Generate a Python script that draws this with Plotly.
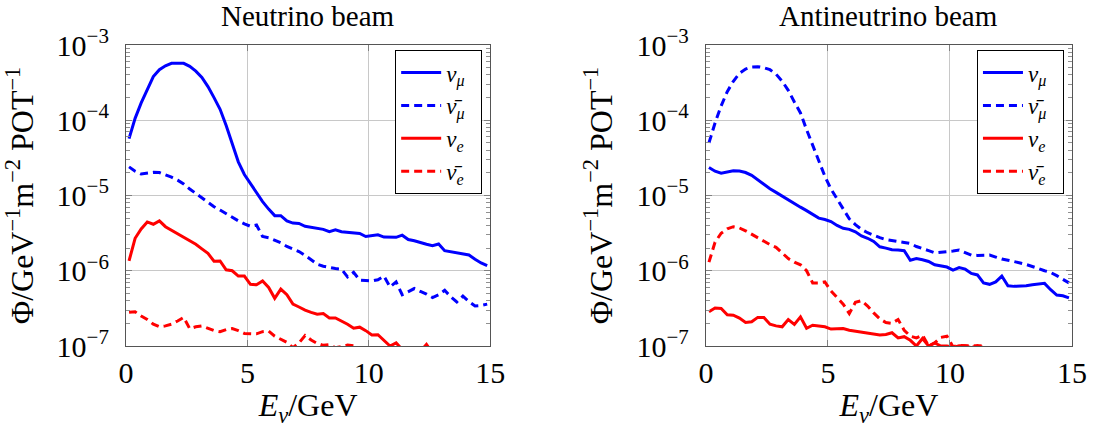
import numpy as np
import plotly.graph_objects as go

# Bin centres of the energy histogram (GeV)
energy = np.arange(0.125, 15.0, 0.25)

# --- Neutrino (forward horn current) beam, flux per GeV per m^2 per POT ---
nu_numu = [5.7e-5, 1.06e-4, 1.7e-4, 2.6e-4, 3.8e-4, 4.7e-4, 5.3e-4, 5.7e-4, 5.75e-4, 5.7e-4,
           5.2e-4, 4.5e-4, 3.7e-4, 2.8e-4, 2.0e-4, 1.4e-4, 8.5e-5, 5.0e-5, 2.8e-5, 1.9e-5,
           1.45e-5, 1.1e-5, 8.3e-6, 6.6e-6, 5.4e-6, 5.4e-6, 4.6e-6, 4.3e-6, 4.25e-6, 3.9e-6,
           3.8e-6, 3.7e-6, 3.55e-6, 3.3e-6, 3.5e-6, 3.3e-6, 3.25e-6, 3.2e-6, 3.13e-6, 2.85e-6,
           2.9e-6, 3.0e-6, 2.8e-6, 2.78e-6, 2.78e-6, 2.97e-6, 2.6e-6, 2.5e-6, 2.35e-6, 2.25e-6,
           2.15e-6, 2.27e-6, 1.85e-6, 1.78e-6, 1.73e-6, 1.65e-6, 1.62e-6, 1.42e-6, 1.27e-6, 1.17e-6]
nu_numubar = [2.4e-5, 2.1e-5, 1.93e-5, 1.98e-5, 2.03e-5, 2.02e-5, 1.9e-5, 1.75e-5, 1.6e-5, 1.42e-5,
              1.22e-5, 1.06e-5, 9.2e-6, 8.0e-6, 7.1e-6, 6.4e-6, 5.7e-6, 5.1e-6, 4.6e-6, 4.2e-6,
              3.9e-6, 4.05e-6, 2.85e-6, 2.75e-6, 2.55e-6, 2.35e-6, 2.1e-6, 1.95e-6, 1.8e-6, 1.6e-6,
              1.4e-6, 1.22e-6, 1.15e-6, 1.1e-6, 1.07e-6, 1.05e-6, 8.3e-7, 9.5e-7, 7.5e-7, 7.4e-7,
              7.3e-7, 7.6e-7, 8.5e-7, 6.1e-7, 7.1e-7, 4.8e-7, 5.3e-7, 5.8e-7, 5.3e-7, 4.9e-7,
              4.4e-7, 4.8e-7, 5.5e-7, 4.5e-7, 3.85e-7, 4.6e-7, 3.9e-7, 3.4e-7, 3.45e-7, 3.6e-7]
nu_nue = [1.35e-6, 2.7e-6, 3.6e-6, 4.45e-6, 4.15e-6, 4.6e-6, 3.85e-6, 3.45e-6, 3.1e-6, 2.8e-6,
          2.48e-6, 2.25e-6, 1.95e-6, 1.7e-6, 1.34e-6, 1.35e-6, 1.03e-6, 1.0e-6, 8.5e-7, 8.5e-7,
          6.6e-7, 6.5e-7, 7.3e-7, 6.0e-7, 4.3e-7, 5.7e-7, 4.8e-7, 3.6e-7, 3.3e-7, 3.0e-7,
          2.8e-7, 2.65e-7, 2.7e-7, 2.36e-7, 2.36e-7, 2.15e-7, 1.95e-7, 1.72e-7, 1.78e-7, 1.6e-7,
          1.4e-7, 1.41e-7, 1.2e-7, 1.0e-7, 1.1e-7, 9.0e-8, 8.5e-8, 8.0e-8, 8.5e-8, 1.05e-7,
          8.0e-8, 7.6e-8, 7.2e-8, 7.5e-8, 7.0e-8, 6.8e-8, 6.6e-8, 6.9e-8, 6.4e-8, 6.2e-8]
nu_nuebar = [2.8e-7, 2.85e-7, 2.5e-7, 2.25e-7, 1.95e-7, 1.8e-7, 1.85e-7, 1.95e-7, 2.15e-7, 2.4e-7,
             1.7e-7, 1.8e-7, 1.85e-7, 1.7e-7, 1.6e-7, 1.55e-7, 1.65e-7, 1.7e-7, 1.6e-7, 1.47e-7,
             1.45e-7, 1.45e-7, 1.55e-7, 1.58e-7, 1.35e-7, 1.22e-7, 1.12e-7, 9.5e-8, 1.1e-7, 1.38e-7,
             1.2e-7, 1.08e-7, 1.02e-7, 1.04e-7, 9.5e-8, 9.8e-8, 1.03e-7, 1.01e-7, 9.0e-8, 8.0e-8,
             7.5e-8, 7.8e-8, 7.0e-8, 6.8e-8, 7.2e-8, 6.5e-8, 6.2e-8, 6.6e-8, 6.0e-8, 5.8e-8,
             6.1e-8, 5.6e-8, 5.4e-8, 5.7e-8, 5.2e-8, 5.0e-8, 5.3e-8, 4.9e-8, 4.8e-8, 4.6e-8]

# --- Antineutrino (reverse horn current) beam ---
anu_numu = [2.36e-5, 2.1e-5, 1.98e-5, 2.05e-5, 2.13e-5, 2.12e-5, 2.02e-5, 1.85e-5, 1.6e-5, 1.4e-5,
            1.23e-5, 1.1e-5, 9.8e-6, 8.6e-6, 7.7e-6, 7.0e-6, 6.3e-6, 5.6e-6, 5.0e-6, 4.8e-6,
            4.5e-6, 4.0e-6, 3.66e-6, 3.55e-6, 3.3e-6, 2.9e-6, 2.7e-6, 2.45e-6, 2.08e-6, 2.0e-6,
            1.9e-6, 1.88e-6, 1.85e-6, 1.38e-6, 1.45e-6, 1.4e-6, 1.33e-6, 1.2e-6, 1.15e-6, 1.12e-6,
            1.02e-6, 1.1e-6, 1.05e-6, 9.2e-7, 8.8e-7, 6.9e-7, 6.6e-7, 7.1e-7, 8.5e-7, 6.3e-7,
            6.2e-7, 6.2e-7, 6.3e-7, 6.5e-7, 6.6e-7, 6.8e-7, 5.6e-7, 4.75e-7, 4.65e-7, 4.35e-7]
anu_numubar = [5.0e-5, 9.2e-5, 1.55e-4, 2.4e-4, 3.3e-4, 4.2e-4, 4.8e-4, 5.1e-4, 5.15e-4, 5.0e-4,
               4.7e-4, 4.1e-4, 3.3e-4, 2.5e-4, 1.75e-4, 1.25e-4, 7.5e-5, 4.6e-5, 2.8e-5, 1.8e-5,
               1.22e-5, 9.0e-6, 6.5e-6, 4.9e-6, 4.1e-6, 3.55e-6, 3.2e-6, 2.95e-6, 2.75e-6, 2.6e-6,
               2.55e-6, 2.45e-6, 2.38e-6, 2.3e-6, 2.1e-6, 1.95e-6, 1.85e-6, 1.73e-6, 1.75e-6, 1.78e-6,
               1.83e-6, 1.88e-6, 1.72e-6, 1.61e-6, 1.6e-6, 1.6e-6, 1.62e-6, 1.52e-6, 1.43e-6, 1.38e-6,
               1.31e-6, 1.27e-6, 1.21e-6, 1.15e-6, 1.07e-6, 1.0e-6, 9.5e-7, 8.6e-7, 7.8e-7, 6.9e-7]
anu_nue = [2.85e-7, 3.2e-7, 3.15e-7, 2.6e-7, 2.57e-7, 2.35e-7, 2.05e-7, 2.1e-7, 2.4e-7, 2.4e-7,
           1.95e-7, 1.85e-7, 1.8e-7, 2.25e-7, 1.94e-7, 2.44e-7, 1.72e-7, 1.89e-7, 1.85e-7, 1.8e-7,
           1.68e-7, 1.7e-7, 1.71e-7, 1.62e-7, 1.57e-7, 1.55e-7, 1.5e-7, 1.45e-7, 1.4e-7, 1.42e-7,
           1.5e-7, 1.28e-7, 1.33e-7, 1.19e-7, 1.0e-7, 1.26e-7, 1.0e-7, 1.1e-7, 1.0e-7, 1.0e-7,
           9.6e-8, 1.01e-7, 1.0e-7, 9.5e-8, 1.01e-7, 9.5e-8, 8.8e-8, 8.4e-8, 8.6e-8, 8.0e-8,
           7.8e-8, 7.5e-8, 7.7e-8, 7.2e-8, 7.0e-8, 7.3e-8, 6.8e-8, 6.6e-8, 6.5e-8, 6.3e-8]
anu_nuebar = [1.3e-6, 2.4e-6, 3.15e-6, 3.6e-6, 3.85e-6, 3.7e-6, 3.4e-6, 3.05e-6, 2.7e-6, 2.45e-6,
              2.22e-6, 2.05e-6, 1.75e-6, 1.45e-6, 1.3e-6, 1.2e-6, 1.0e-6, 6.9e-7, 6.9e-7, 7.1e-7,
              5.4e-7, 4.4e-7, 3.6e-7, 2.7e-7, 3.8e-7, 4.0e-7, 3.4e-7, 2.75e-7, 2.3e-7, 2.05e-7,
              2.0e-7, 2.25e-7, 1.62e-7, 1.35e-7, 1.28e-7, 1.39e-7, 1.0e-7, 1.1e-7, 1.3e-7, 1.35e-7,
              9.8e-8, 1.02e-7, 1.01e-7, 1.02e-7, 1.0e-7, 1.01e-7, 9.0e-8, 8.5e-8, 8.2e-8, 7.9e-8,
              7.6e-8, 7.8e-8, 7.2e-8, 7.0e-8, 6.8e-8, 6.9e-8, 6.5e-8, 6.3e-8, 6.1e-8, 6.0e-8]

panel_titles = ["Neutrino beam", "Antineutrino beam"]
PAD = "\u00a0\u00a0"
series_names = [f"<i>ν</i><sub><i>μ</i></sub>{PAD}", f"<i>ν\u0304</i><sub><i>μ</i></sub>{PAD}",
                f"<i>ν</i><sub><i>e</i></sub>{PAD}", f"<i>ν\u0304</i><sub><i>e</i></sub>{PAD}"]
y_tickvals = [1e-7, 1e-6, 1e-5, 1e-4, 1e-3]
y_ticktext = ["10<sup>−7</sup>", "10<sup>−6</sup>", "10<sup>−5</sup>", "10<sup>−4</sup>", "10<sup>−3</sup>"]
y_minor = [m * 10.0 ** e for e in range(-7, -3) for m in range(2, 10)]
x_tickvals = [0, 5, 10, 15]

BLUE = "#0000ff"
RED = "#ff0000"
FONT = "Liberation Serif"
DASH = "8px,5px"

panels = [
    [nu_numu, nu_numubar, nu_nue, nu_nuebar],
    [anu_numu, anu_numubar, anu_nue, anu_nuebar],
]
styles = [(BLUE, "solid"), (BLUE, DASH), (RED, "solid"), (RED, DASH)]

fig = go.Figure()
for p, data in enumerate(panels):
    xa = "x" if p == 0 else "x2"
    ya = "y" if p == 0 else "y2"
    lg = "legend" if p == 0 else "legend2"
    for vals, name, (col, dash) in zip(data, series_names, styles):
        fig.add_trace(go.Scatter(
            x=energy, y=vals, mode="lines", name=name,
            line=dict(color=col, width=3, dash=dash),
            xaxis=xa, yaxis=ya, legend=lg, cliponaxis=True,
        ))

axis_common = dict(
    showline=True, linecolor="#555555", linewidth=1.2, mirror="ticks",
    ticks="inside", ticklen=6, tickcolor="#808080", tickwidth=1,
    showgrid=True, gridcolor="#c8c8c8", gridwidth=1,
    zeroline=False, tickfont=dict(family=FONT, size=30, color="black"),
)
xaxis_cfg = dict(axis_common, range=[0, 15], tickvals=x_tickvals,
                 title=dict(text="<i>E</i><sub><i>ν</i></sub>/GeV",
                            font=dict(family=FONT, size=32, color="black"), standoff=4))
yaxis_cfg = dict(axis_common, type="log", range=[-7, -3], tickvals=y_tickvals, ticktext=y_ticktext,
                 ticklabelstandoff=10,
                 minor=dict(tickmode="array", tickvals=y_minor, ticks="inside", ticklen=4,
                            tickcolor="#909090", showgrid=False),
                 title=dict(text="Φ/GeV<sup>−1</sup>m<sup>−2</sup> POT<sup>−1</sup>",
                            font=dict(family=FONT, size=32, color="black"), standoff=14))

legend_common = dict(
    bgcolor="white", bordercolor="black", borderwidth=1,
    font=dict(family=FONT, size=23, color="black"),
    xanchor="right", yanchor="top", tracegroupgap=0, itemwidth=40,
)

fig.update_layout(
    width=1099, height=428,
    margin=dict(l=126, r=22, t=45, b=82),
    plot_bgcolor="white", paper_bgcolor="white",
    xaxis=dict(xaxis_cfg, domain=[0, 0.385], anchor="y"),
    yaxis=dict(yaxis_cfg, domain=[0, 1], anchor="x"),
    xaxis2=dict(xaxis_cfg, domain=[0.613, 1], anchor="y2"),
    yaxis2=dict(yaxis_cfg, domain=[0, 1], anchor="x2"),
    legend=dict(legend_common, x=0.3765, y=0.983, xref="paper", yref="paper"),
    legend2=dict(legend_common, x=0.9915, y=0.983, xref="paper", yref="paper"),
    showlegend=True,
)

for title, xc in zip(panel_titles, [0.1925, 0.8065]):
    fig.add_annotation(text=title, x=xc, y=1.098, xref="paper", yref="paper",
                       xanchor="center", yanchor="middle", showarrow=False,
                       font=dict(family=FONT, size=29, color="black"))

fig.write_html("out.html")
